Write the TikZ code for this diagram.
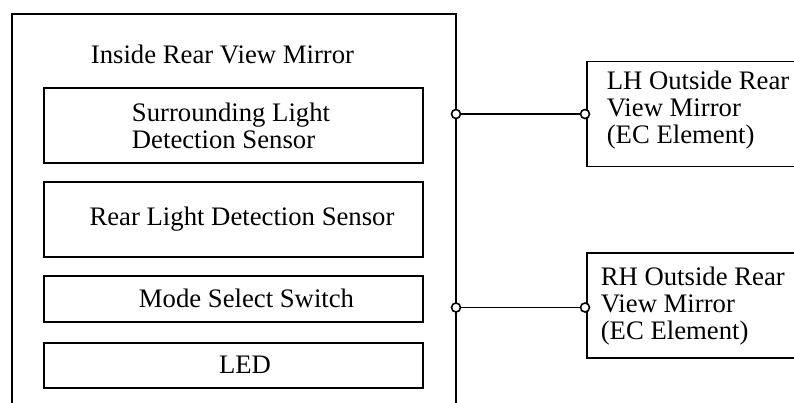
\documentclass[tikz,border=0pt]{standalone}
\usepackage{fontspec}
\setmainfont{Liberation Serif}

\begin{document}
\begin{tikzpicture}[
    line width=0.9pt,
    every node/.style={font=\fontsize{15.2}{15.4}\selectfont, inner sep=0pt},
    unit/.style={draw, rectangle, minimum width=7.58cm},
    mirror/.style={draw, rectangle, minimum width=5.3cm, minimum height=2.1cm},
    port/.style={circle, draw, fill=white, minimum size=0.18cm},
]
  \useasboundingbox (0,0) rectangle (15.88,-8.04);
  \clip (0,0) rectangle (15.88,-8.04);

  \node [draw, minimum width=8.88cm, minimum height=8.8cm] (inside) at (4.68,-4.68) {};
  \node []       (title)  at (4.45,-1.08) {Inside Rear View Mirror};

  \node [unit, minimum height=1.5cm]  (surround) at (4.67,-2.51) {};
  \node [unit, minimum height=1.5cm]  (rear)     at (4.67,-4.39) {};
  \node [unit, minimum height=0.92cm] (mode)     at (4.67,-5.98) {};
  \node [unit, minimum height=0.9cm]  (led)      at (4.67,-7.31) {};

  \node [align=left] (surroundtxt) at (4.62,-2.52) {Surrounding Light\\Detection Sensor};
  \node []           (reartxt)     at (4.84,-4.38) {Rear Light Detection Sensor};
  \node []           (modetxt)     at (4.93,-5.97) {Mode Select Switch};
  \node []           (ledtxt)      at (4.90,-7.30) {LED};

  \node [mirror, anchor=west] (lhmirror) at (11.72,-2.28) {};
  \node [mirror, anchor=west] (rhmirror) at (11.72,-6.11) {};
  \node [align=left, anchor=west] (lhtxt) at (12.12,-2.20) {LH Outside Rear\\View Mirror\\(EC Element)};
  \node [align=left, anchor=west] (rhtxt) at (12.00,-6.12) {RH Outside Rear\\View Mirror\\(EC Element)};

  \node [port]   (lhout) at (9.12,-2.28)  {};
  \node [port]   (lhin)  at (11.70,-2.28) {}  edge    [-]         (lhout);
  \node [port]   (rhout) at (9.12,-6.15)  {};
  \node [port]   (rhin)  at (11.70,-6.15) {}  edge    [-]         (rhout);
\end{tikzpicture}
\end{document}
